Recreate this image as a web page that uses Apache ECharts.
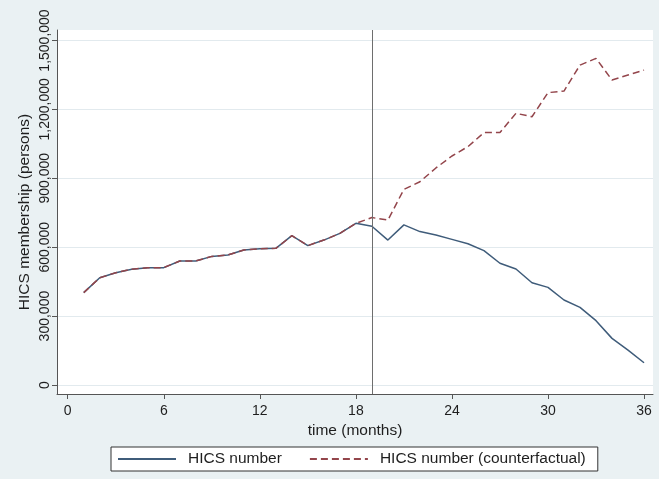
<!DOCTYPE html>
<html>
<head>
<meta charset="utf-8">
<script src="https://cdn.jsdelivr.net/npm/echarts@6/dist/echarts.min.js"></script>
<style>
html,body{margin:0;padding:0;background:#eaf1f3;}
#chart{width:659px;height:479px;}
</style>
</head>
<body>
<div id="chart"></div>
<script>
// ---- data ----
const months = [1,2,3,4,5,6,7,8,9,10,11,12,13,14,15,16,17,18,19,20,21,22,23,24,25,26,27,28,29,30,31,32,33,34,35,36];
const hicsNumber = [402000,467000,489000,504000,511000,511000,540000,540000,560000,566000,588000,593000,595000,650000,607000,631000,660000,704000,
                    691000,631000,697000,668000,653000,634000,615000,585000,530000,505000,445000,425000,370000,338000,280000,203000,152000,97000];
const hicsCounterfactual = [402000,467000,489000,504000,511000,511000,540000,540000,560000,566000,588000,593000,595000,650000,607000,631000,660000,704000,
                    729000,718000,852000,885000,945000,997000,1038000,1099000,1099000,1183000,1168000,1273000,1280000,1393000,1422000,1328000,1350000,1371000];
const xTicks = [0,6,12,18,24,30,36];
const yTicks = [0,300000,600000,900000,1200000,1500000];
const policyMonth = [19];
const seriesNames = ['HICS number','HICS number (counterfactual)'];

const font = 'Liberation Sans, Arial, sans-serif';
const axisColor = '#555';
const textColor = '#1e1e1e';

const chart = echarts.init(document.getElementById('chart'), null, {renderer:'canvas'});
chart.setOption({
  animation:false,
  backgroundColor:'#eaf1f3',
  textStyle:{fontFamily:font},
  grid:{left:57, right:6, top:30, bottom:85, show:true, backgroundColor:'#ffffff', borderWidth:0},
  legend:{
    left:111, top:447, orient:'horizontal',
    itemWidth:58, itemHeight:14, itemGap:27,
    padding:[4,12,4,6],
    borderColor:'#333', borderWidth:1, borderRadius:0, backgroundColor:'#ffffff',
    itemStyle:{opacity:0},
    textStyle:{fontSize:15.5, color:textColor, fontFamily:font, padding:[0,0,0,7]},
    data:seriesNames
  },
  xAxis:{
    type:'value', min:-0.67, max:36.56,
    name:'time (months)', nameLocation:'middle', nameGap:29, nameMoveOverlap:false,
    nameTextStyle:{fontSize:15.5, color:textColor, fontFamily:font},
    axisLine:{show:true, onZero:false, lineStyle:{color:axisColor, width:1}},
    axisTick:{show:true, customValues:xTicks, length:5, lineStyle:{color:axisColor}},
    axisLabel:{customValues:xTicks, fontSize:14, color:textColor, margin:10, fontFamily:font},
    splitLine:{show:false}
  },
  yAxis:{
    type:'value', min:-39200, max:1545700,
    name:'HICS membership (persons)', nameLocation:'middle', nameGap:24, nameMoveOverlap:false,
    nameTextStyle:{fontSize:15.5, color:textColor, fontFamily:font},
    axisLine:{show:true, onZero:false, lineStyle:{color:axisColor, width:1}},
    axisTick:{show:true, customValues:yTicks, length:5, lineStyle:{color:axisColor}},
    axisLabel:{customValues:yTicks, fontSize:14, color:textColor, margin:5, rotate:90,
      align:'center', verticalAlign:'bottom', fontFamily:font,
      formatter:function(v){return Number(v).toLocaleString('en-US');}},
    splitLine:{show:true, customValues:yTicks, lineStyle:{color:'#e2eaee', width:1}}
  },
  series:[
    {
      name:seriesNames[0], type:'line', symbol:'none', showSymbol:false,
      data:months.map((m,i)=>[m,hicsNumber[i]]),
      lineStyle:{color:'#3f5c7a', width:1.5, type:'solid'},
      itemStyle:{color:'#3f5c7a'},
      markLine:{
        silent:true, symbol:'none', label:{show:false},
        lineStyle:{color:'#6e6e6e', width:1, type:'solid'},
        emphasis:{disabled:true},
        data:policyMonth.map(m=>({xAxis:m}))
      }
    },
    {
      name:seriesNames[1], type:'line', symbol:'none', showSymbol:false,
      data:months.map((m,i)=>[m,hicsCounterfactual[i]]),
      lineStyle:{color:'#93454b', width:1.5, type:[7,4]},
      itemStyle:{color:'#93454b'}
    }
  ]
});
</script>
</body>
</html>
